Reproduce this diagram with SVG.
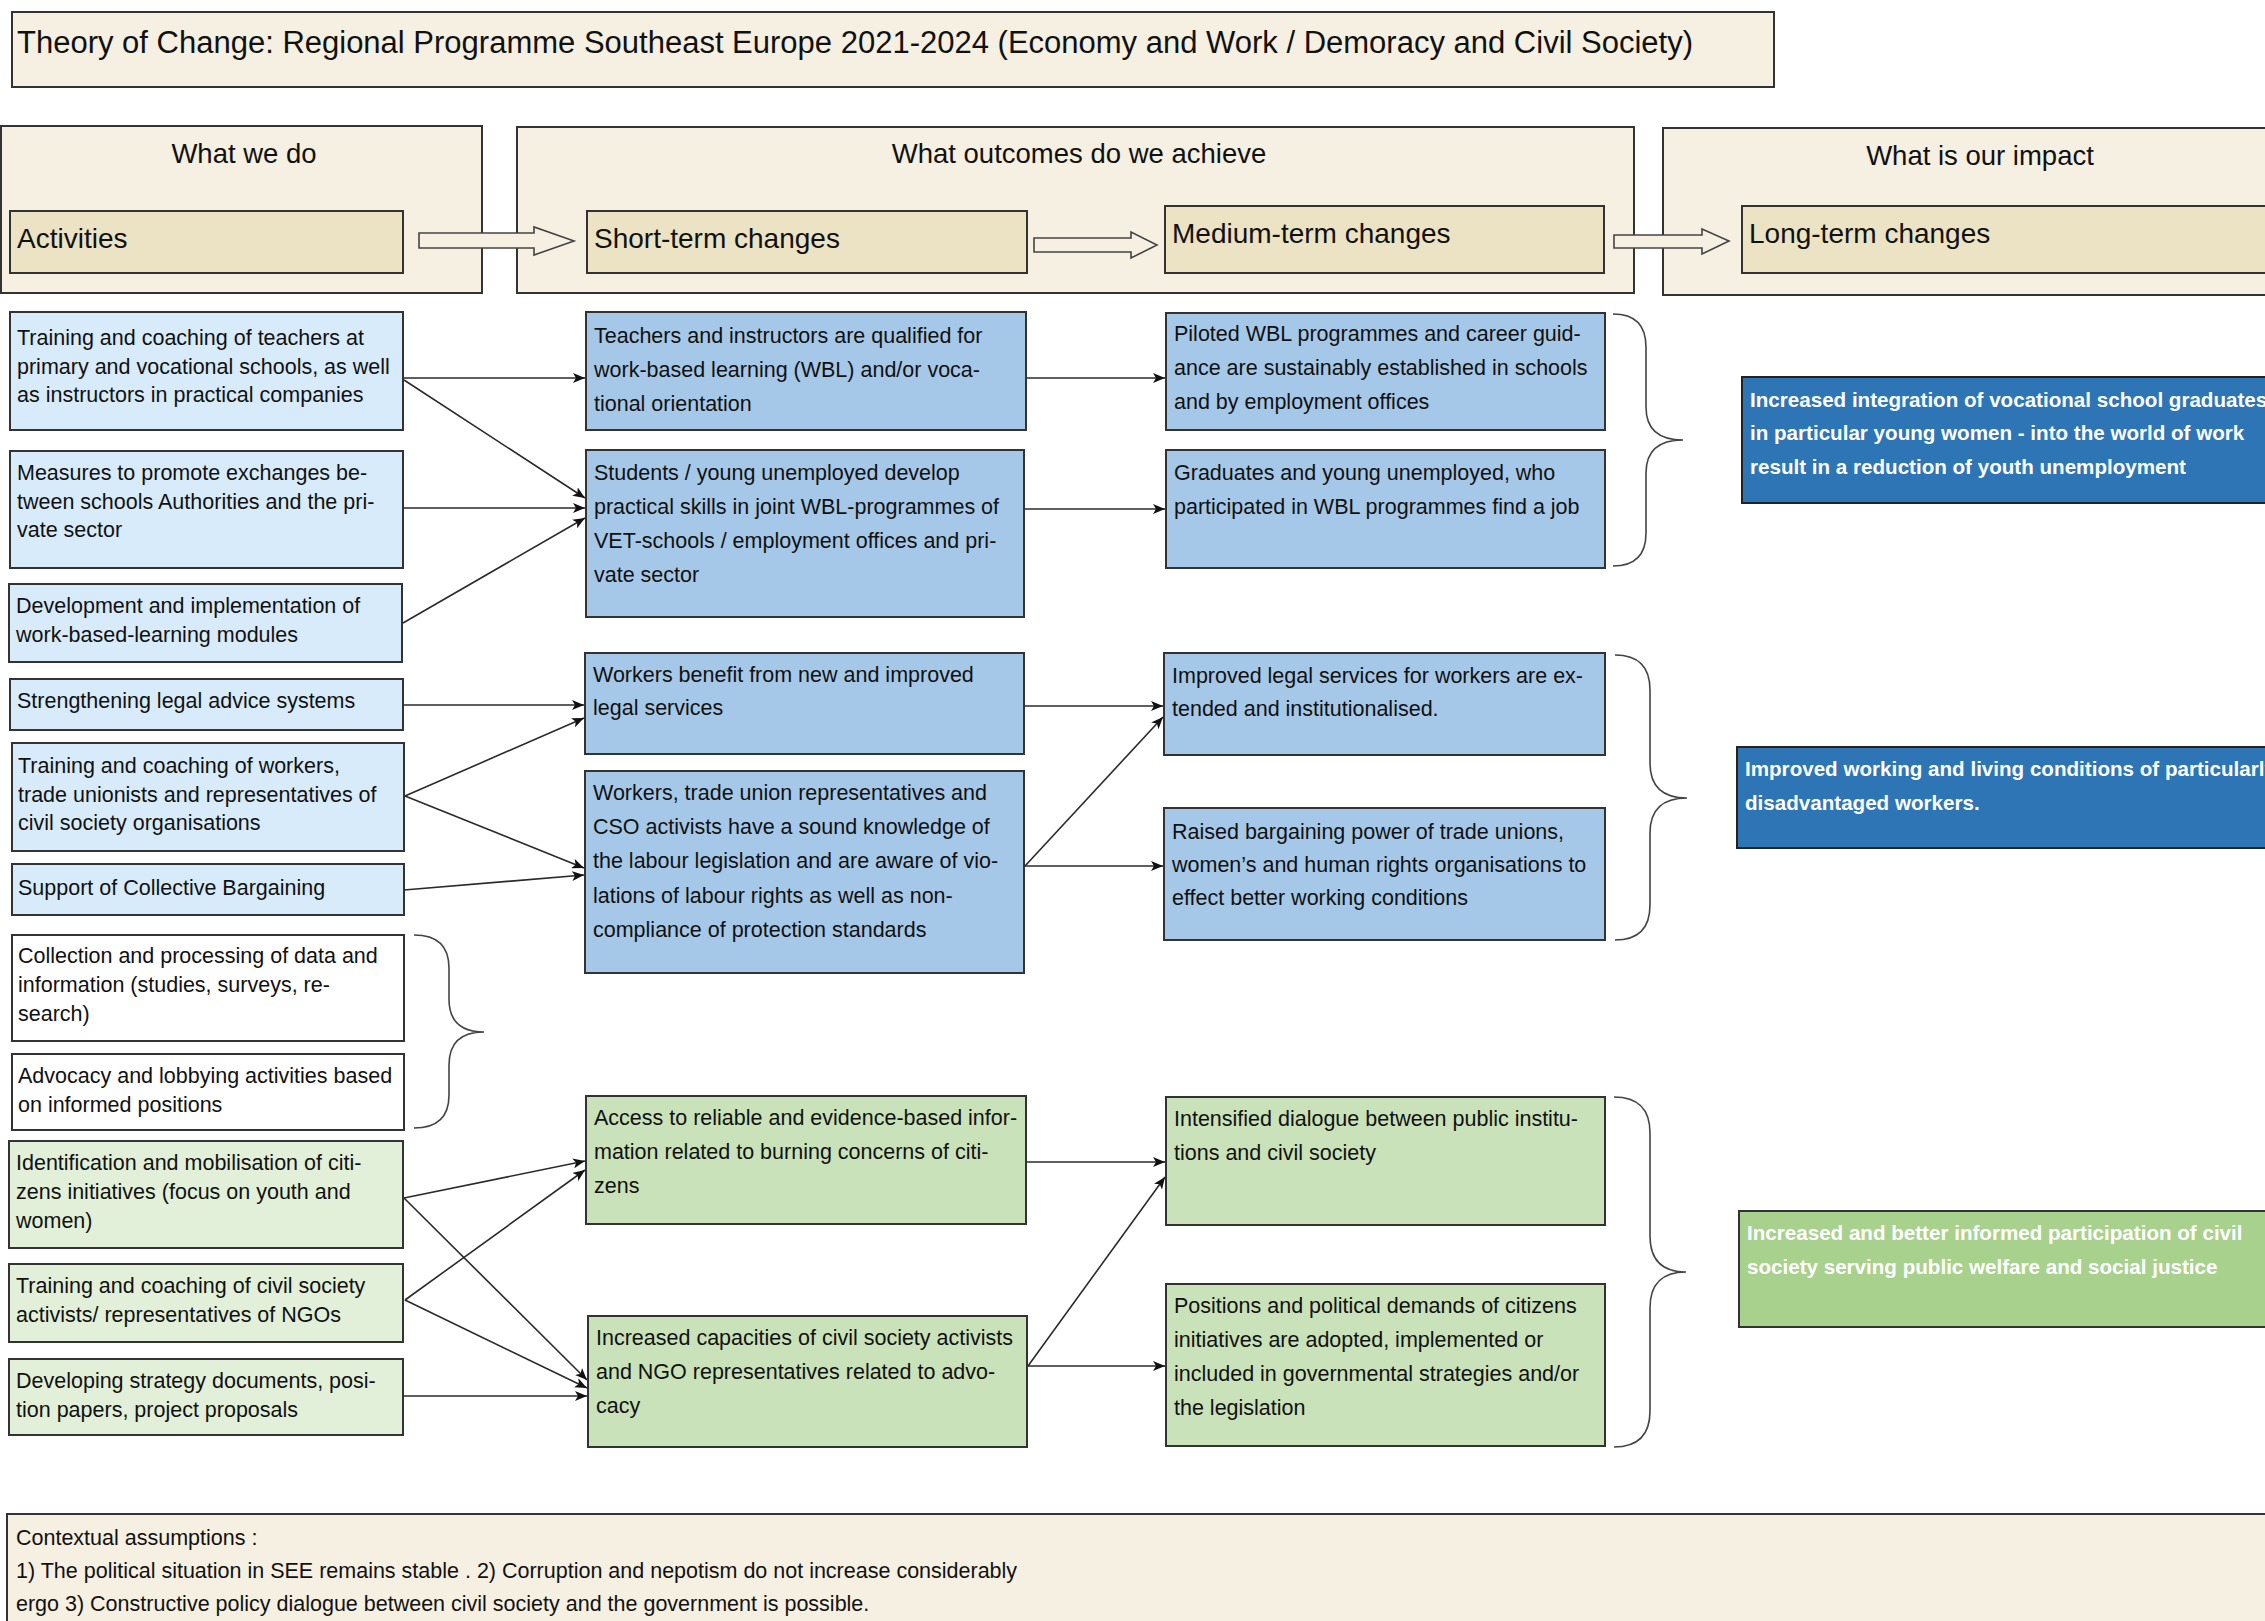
<svg xmlns="http://www.w3.org/2000/svg" width="2265" height="1621" viewBox="0 0 2265 1621">
<style>
text{font-family:"Liberation Sans",Arial,sans-serif;fill:#111}
.t{font-size:21.5px}
.h{font-size:27.5px}
.sh{font-size:28px}
.ti{font-size:31px}
.w{font-size:20.6px;font-weight:bold;fill:#fff}
.hdr{fill:#F5F0E1;stroke:#333;stroke-width:2}
.sub{fill:#EBE3C3;stroke:#333;stroke-width:2}
.a{fill:#D7EBFA;stroke:#333;stroke-width:2}
.o{fill:#A5C8E8;stroke:#333;stroke-width:2}
.ib{fill:#2E75B6;stroke:#222;stroke-width:2}
.ag{fill:#E2F0D9;stroke:#333;stroke-width:2}
.og{fill:#C9E2B9;stroke:#333;stroke-width:2}
.ig{fill:#A9D18E;stroke:#333;stroke-width:2}
.wh{fill:#fff;stroke:#333;stroke-width:2}
.c line{stroke:#2a2a2a;stroke-width:1.6;marker-end:url(#ah)}
.br{fill:none;stroke:#444;stroke-width:1.6}
.blk{fill:#F5F0E1;stroke:#444;stroke-width:1.6}
</style>
<defs>
<marker id="ah" markerUnits="userSpaceOnUse" markerWidth="12" markerHeight="10" refX="12" refY="5" orient="auto">
<path d="M0,0 L12,5 L0,10 L3,5 z" fill="#111"/>
</marker>
</defs>
<rect width="2265" height="1621" fill="#fff"/>

<g id="title">
<rect x="12" y="12" width="1762" height="75" class="hdr"/>
<text x="17" y="53" class="ti">Theory of Change: Regional Programme Southeast Europe 2021-2024 (Economy and Work / Demoracy and Civil Society)</text>
</g>

<g id="hdr-do">
<rect x="1" y="126" width="481" height="167" class="hdr"/>
<text x="244" y="163" class="h" text-anchor="middle">What we do</text>
</g>
<g id="hdr-outcomes">
<rect x="517" y="127" width="1117" height="166" class="hdr"/>
<text x="1079" y="163" class="h" text-anchor="middle">What outcomes do we achieve</text>
</g>
<g id="hdr-impact">
<rect x="1663" y="128" width="620" height="167" class="hdr"/>
<text x="1980" y="165" class="h" text-anchor="middle">What is our impact</text>
</g>

<g id="sub-activities">
<rect x="10" y="211" width="393" height="62" class="sub"/>
<text x="17" y="248" class="sh">Activities</text>
</g>
<g id="sub-short">
<rect x="587" y="211" width="440" height="62" class="sub"/>
<text x="594" y="248" class="sh">Short-term changes</text>
</g>
<g id="sub-medium">
<rect x="1165" y="206" width="439" height="67" class="sub"/>
<text x="1172" y="243" class="sh">Medium-term changes</text>
</g>
<g id="sub-long">
<rect x="1742" y="206" width="540" height="67" class="sub"/>
<text x="1749" y="243" class="sh">Long-term changes</text>
</g>

<g id="block-arrows">
<polygon class="blk" points="419,233 534,233 534,227 574,241 534,255 534,248 419,248"/>
<polygon class="blk" points="1034,238 1131,238 1131,232 1157,245 1131,258 1131,252 1034,252"/>
<polygon class="blk" points="1614,235 1702,235 1702,229 1729,241 1702,254 1702,248 1614,248"/>
</g>

<g id="a1"><rect x="10" y="312" width="393" height="118" class="a"/>
<text class="t" x="17" y="345">Training and coaching of teachers at</text>
<text class="t" x="17" y="374">primary and vocational schools, as well</text>
<text class="t" x="17" y="402">as instructors in practical companies</text></g>
<g id="a2"><rect x="10" y="451" width="393" height="117" class="a"/>
<text class="t" x="17" y="480">Measures to promote exchanges be-</text>
<text class="t" x="17" y="508.5">tween schools Authorities and the pri-</text>
<text class="t" x="17" y="537">vate sector</text></g>
<g id="a3"><rect x="9" y="584" width="393" height="78" class="a"/>
<text class="t" x="16" y="613">Development and implementation of</text>
<text class="t" x="16" y="642">work-based-learning modules</text></g>
<g id="a4"><rect x="10" y="679" width="393" height="51" class="a"/>
<text class="t" x="17" y="708">Strengthening legal advice systems</text></g>
<g id="a5"><rect x="12" y="743" width="392" height="108" class="a"/>
<text class="t" x="18" y="773">Training and coaching of workers,</text>
<text class="t" x="18" y="802">trade unionists and representatives of</text>
<text class="t" x="18" y="830">civil society organisations</text></g>
<g id="a6"><rect x="12" y="864" width="392" height="51" class="a"/>
<text class="t" x="18" y="895">Support of Collective Bargaining</text></g>
<g id="a7"><rect x="12" y="935" width="392" height="106" class="wh"/>
<text class="t" x="18" y="963">Collection and processing of data and</text>
<text class="t" x="18" y="992">information (studies, surveys, re-</text>
<text class="t" x="18" y="1021">search)</text></g>
<g id="a8"><rect x="12" y="1054" width="392" height="76" class="wh"/>
<text class="t" x="18" y="1083">Advocacy and lobbying activities based</text>
<text class="t" x="18" y="1112">on informed positions</text></g>
<g id="a9"><rect x="9" y="1141" width="394" height="107" class="ag"/>
<text class="t" x="16" y="1170">Identification and mobilisation of citi-</text>
<text class="t" x="16" y="1199">zens initiatives (focus on youth and</text>
<text class="t" x="16" y="1228">women)</text></g>
<g id="a10"><rect x="9" y="1264" width="394" height="78" class="ag"/>
<text class="t" x="16" y="1293">Training and coaching of civil society</text>
<text class="t" x="16" y="1322">activists/ representatives of NGOs</text></g>
<g id="a11"><rect x="9" y="1359" width="394" height="76" class="ag"/>
<text class="t" x="16" y="1388">Developing strategy documents, posi-</text>
<text class="t" x="16" y="1417">tion papers, project proposals</text></g>

<g id="s1"><rect x="586" y="312" width="440" height="118" class="o"/>
<text class="t" x="594" y="343">Teachers and instructors are qualified for</text>
<text class="t" x="594" y="377">work-based learning (WBL) and/or voca-</text>
<text class="t" x="594" y="411">tional orientation</text></g>
<g id="s2"><rect x="586" y="450" width="438" height="167" class="o"/>
<text class="t" x="594" y="480">Students / young unemployed develop</text>
<text class="t" x="594" y="514">practical skills in joint WBL-programmes of</text>
<text class="t" x="594" y="548">VET-schools / employment offices and pri-</text>
<text class="t" x="594" y="582">vate sector</text></g>
<g id="s3"><rect x="585" y="653" width="439" height="101" class="o"/>
<text class="t" x="593" y="682">Workers benefit from new and improved</text>
<text class="t" x="593" y="715">legal services</text></g>
<g id="s4"><rect x="585" y="771" width="439" height="202" class="o"/>
<text class="t" x="593" y="800">Workers, trade union representatives and</text>
<text class="t" x="593" y="834">CSO activists have a sound knowledge of</text>
<text class="t" x="593" y="868">the labour legislation and are aware of vio-</text>
<text class="t" x="593" y="903">lations of labour rights as well as non-</text>
<text class="t" x="593" y="937">compliance of protection standards</text></g>
<g id="s5"><rect x="586" y="1096" width="440" height="128" class="og"/>
<text class="t" x="594" y="1125">Access to reliable and evidence-based infor-</text>
<text class="t" x="594" y="1159">mation related to burning concerns of citi-</text>
<text class="t" x="594" y="1193">zens</text></g>
<g id="s6"><rect x="588" y="1316" width="439" height="131" class="og"/>
<text class="t" x="596" y="1345">Increased capacities of civil society activists</text>
<text class="t" x="596" y="1379">and NGO representatives related to advo-</text>
<text class="t" x="596" y="1413">cacy</text></g>

<g id="m1"><rect x="1166" y="313" width="439" height="117" class="o"/>
<text class="t" x="1174" y="341">Piloted WBL programmes and career guid-</text>
<text class="t" x="1174" y="375">ance are sustainably established in schools</text>
<text class="t" x="1174" y="409">and by employment offices</text></g>
<g id="m2"><rect x="1166" y="450" width="439" height="118" class="o"/>
<text class="t" x="1174" y="480">Graduates and young unemployed, who</text>
<text class="t" x="1174" y="514">participated in WBL programmes find a job</text></g>
<g id="m3"><rect x="1164" y="653" width="441" height="102" class="o"/>
<text class="t" x="1172" y="683">Improved legal services for workers are ex-</text>
<text class="t" x="1172" y="716">tended and institutionalised.</text></g>
<g id="m4"><rect x="1164" y="808" width="441" height="132" class="o"/>
<text class="t" x="1172" y="839">Raised bargaining power of trade unions,</text>
<text class="t" x="1172" y="872">women’s and human rights organisations to</text>
<text class="t" x="1172" y="905">effect better working conditions</text></g>
<g id="m5"><rect x="1166" y="1097" width="439" height="128" class="og"/>
<text class="t" x="1174" y="1126">Intensified dialogue between public institu-</text>
<text class="t" x="1174" y="1160">tions and civil society</text></g>
<g id="m6"><rect x="1166" y="1284" width="439" height="162" class="og"/>
<text class="t" x="1174" y="1313">Positions and political demands of citizens</text>
<text class="t" x="1174" y="1347">initiatives are adopted, implemented or</text>
<text class="t" x="1174" y="1381">included in governmental strategies and/or</text>
<text class="t" x="1174" y="1415">the legislation</text></g>

<g id="l1"><rect x="1742" y="377" width="560" height="126" class="ib"/>
<text class="w" x="1750" y="407">Increased integration of vocational school graduates</text>
<text class="w" x="1750" y="440">in particular young women - into the world of work</text>
<text class="w" x="1750" y="474">result in a reduction of youth unemployment</text></g>
<g id="l2"><rect x="1737" y="747" width="560" height="101" class="ib"/>
<text class="w" x="1745" y="776">Improved working and living conditions of particularly</text>
<text class="w" x="1745" y="810">disadvantaged workers.</text></g>
<g id="l3"><rect x="1739" y="1211" width="560" height="116" class="ig"/>
<text class="w" x="1747" y="1240">Increased and better informed participation of civil</text>
<text class="w" x="1747" y="1274">society serving public welfare and social justice</text></g>

<g id="assumptions"><rect x="7" y="1514" width="2300" height="130" class="hdr"/>
<text class="t" x="16" y="1545">Contextual assumptions :</text>
<text class="t" x="16" y="1578">1) The political situation in SEE remains stable . 2) Corruption and nepotism do not increase considerably</text>
<text class="t" x="16" y="1611">ergo 3) Constructive policy dialogue between civil society and the government is possible.</text></g>

<g id="braces">
<path class="br" d="M414,935 Q449,935 449,968 L449,999 Q449,1032 484,1032 Q449,1032 449,1065 L449,1095 Q449,1128 414,1128"/>
<path class="br" d="M1613,314 Q1646,314 1646,347 L1646,407 Q1646,440 1683,440 Q1646,440 1646,473 L1646,533 Q1646,566 1613,566"/>
<path class="br" d="M1615,655 Q1650,655 1650,690 L1650,763 Q1650,798 1687,798 Q1650,798 1650,833 L1650,905 Q1650,940 1615,940"/>
<path class="br" d="M1614,1097 Q1650,1097 1650,1133 L1650,1236 Q1650,1272 1686,1272 Q1650,1272 1650,1308 L1650,1411 Q1650,1447 1614,1447"/>
</g>

<g id="connectors" class="c">
<line x1="404" y1="378" x2="585" y2="378"/>
<line x1="404" y1="380" x2="585" y2="498"/>
<line x1="403" y1="508" x2="585" y2="508"/>
<line x1="403" y1="623" x2="585" y2="518"/>
<line x1="404" y1="705" x2="584" y2="705"/>
<line x1="405" y1="796" x2="584" y2="718"/>
<line x1="405" y1="796" x2="584" y2="868"/>
<line x1="404" y1="890" x2="584" y2="875"/>
<line x1="404" y1="1198" x2="585" y2="1161"/>
<line x1="404" y1="1198" x2="587" y2="1380"/>
<line x1="405" y1="1300" x2="585" y2="1170"/>
<line x1="405" y1="1300" x2="587" y2="1388"/>
<line x1="404" y1="1396" x2="587" y2="1396"/>
<line x1="1027" y1="378" x2="1165" y2="378"/>
<line x1="1025" y1="509" x2="1165" y2="509"/>
<line x1="1025" y1="706" x2="1163" y2="706"/>
<line x1="1025" y1="866" x2="1163" y2="717"/>
<line x1="1025" y1="866" x2="1163" y2="866"/>
<line x1="1027" y1="1162" x2="1165" y2="1162"/>
<line x1="1028" y1="1366" x2="1165" y2="1177"/>
<line x1="1028" y1="1366" x2="1165" y2="1366"/>
</g>
</svg>
